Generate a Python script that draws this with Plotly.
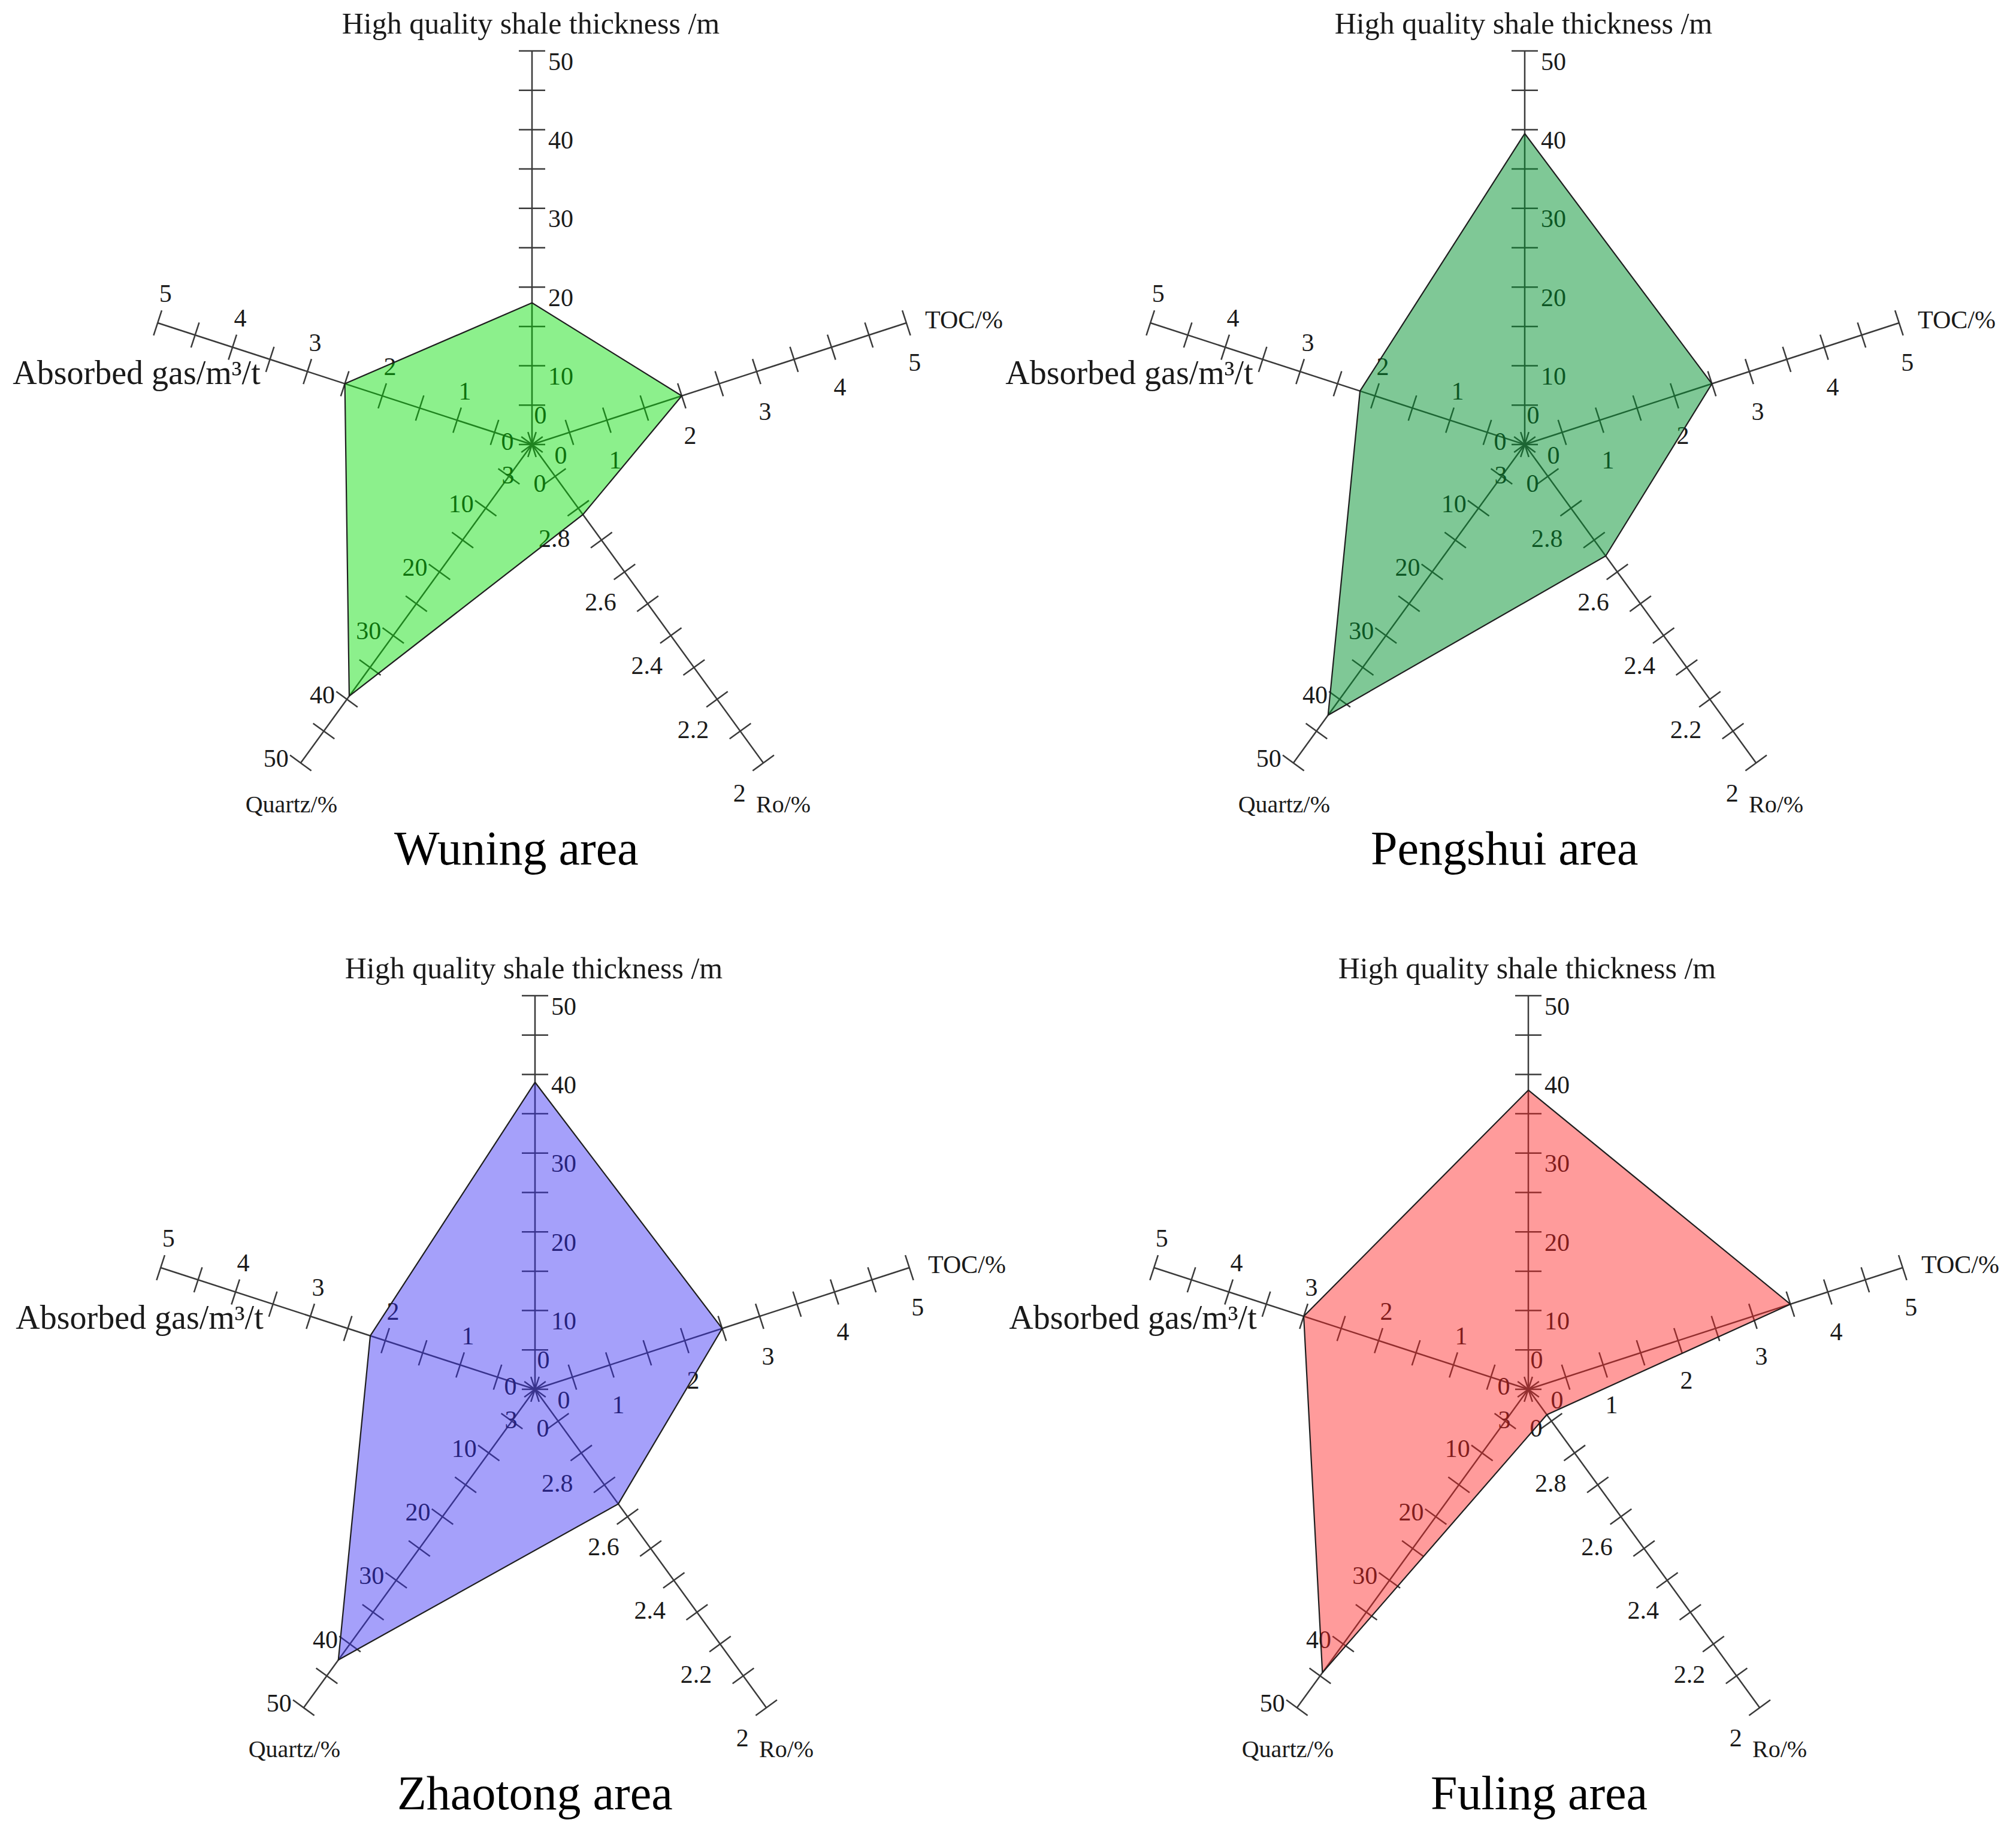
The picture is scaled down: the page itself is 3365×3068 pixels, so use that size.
import math
import plotly.graph_objects as go

# ---------------- data ----------------
areas = ["Wuning area", "Pengshui area", "Zhaotong area", "Fuling area"]
thickness = [18, 39.5, 39, 38]          # High quality shale thickness /m
toc = [2.0, 2.5, 2.5, 3.5]              # TOC/%
ro = [2.78, 2.65, 2.64, 2.92]           # Ro/%
quartz = [39.5, 42.5, 42.5, 44.5]       # Quartz/%
absorbed = [2.5, 2.2, 2.2, 3.0]         # Absorbed gas/m3/t

axis_names = ["High quality shale thickness /m", "TOC/%", "Ro/%", "Quartz/%",
              "Absorbed gas/m\u00b3/t"]
axis_min = [0, 0, 3, 0, 0]
axis_max = [50, 5, 2, 50, 5]
axis_minor_step = [5, 0.5, 0.1, 5, 0.5]
thick_labels = [0, 10, 20, 30, 40, 50]
toc_labels = [0, 1, 2, 3, 4, 5]
ro_labels = [3, 2.8, 2.6, 2.4, 2.2, 2]
quartz_labels = [0, 10, 20, 30, 40, 50]
absorbed_labels = [0, 1, 2, 3, 4, 5]
tick_labels = [thick_labels, toc_labels, ro_labels, quartz_labels, absorbed_labels]

fill_colors = ["rgba(0,222,0,0.45)", "rgba(0,145,45,0.5)",
               "rgba(55,44,244,0.45)", "rgba(255,33,33,0.45)"]

# ---------------- geometry / style ----------------
W, H = 3365, 3068
centers = [(888, 742), (2545, 742), (893, 2319), (2551, 2319)]
title_dx = [-26, -34, 0, 18]
L = 657.0            # axis length in px
S = 735.0            # half size of each polar domain in px
RMAX = S / L
angles = [90, 18, -54, -126, 162]
TICK_H = 22.0 / L
FONT = "Liberation Serif, Times New Roman, serif"
AXIS_COLOR = "#3a3a3a"
TEXT_COLOR = "#1a1a1a"

# label offsets (px, screen coords: +x right, +y down) relative to tick point
label_off = [(48, 21), (14, 70), (-40, 54), (-41, -4), (13, -45)]
# special offsets for the labels at the centre (relative to the centre)
zero_off = [(14, -46), (48, 21), None, (13, 68), (-41, -2)]
# axis title anchor (px from centre), text position, font size
title_pos = [((-2, -699), "middle center", 50),
             ((656, -205), "middle right", 42),
             ((374, 604), "middle right", 40),
             ((-325, 604), "middle left", 40),
             ((-660, -115), "middle center", 56)]


def norm(i, v):
    return (v - axis_min[i]) / (axis_max[i] - axis_min[i])


def pt(i, rn, dx=0.0, dy=0.0, perp=0.0):
    a = math.radians(angles[i])
    x = rn * math.cos(a) - perp * math.sin(a) + dx / L
    y = rn * math.sin(a) + perp * math.cos(a) - dy / L
    return math.hypot(x, y), math.degrees(math.atan2(y, x))


def fmt(v):
    return str(int(v)) if float(v).is_integer() else ("%g" % v)


fig = go.Figure()
annotations = []
values_by_area = list(zip(thickness, toc, ro, quartz, absorbed))

for k in range(4):
    sub = "polar" if k == 0 else "polar%d" % (k + 1)
    cx, cy = centers[k]

    # axis spokes
    r_ax, t_ax = [], []
    for i in range(5):
        r_ax += [0, 1, None]
        t_ax += [angles[i], angles[i], None]
    fig.add_trace(go.Scatterpolar(r=r_ax, theta=t_ax, mode="lines", subplot=sub,
                                  line=dict(color=AXIS_COLOR, width=2.5),
                                  hoverinfo="skip", showlegend=False))

    # tick marks
    r_tk, t_tk = [], []
    for i in range(5):
        n = int(round(abs(axis_max[i] - axis_min[i]) / axis_minor_step[i]))
        for j in range(n + 1):
            rn = j / n
            r1, a1 = pt(i, rn, perp=TICK_H)
            r2, a2 = pt(i, rn, perp=-TICK_H)
            r_tk += [r1, r2, None]
            t_tk += [a1, a2, None]
    fig.add_trace(go.Scatterpolar(r=r_tk, theta=t_tk, mode="lines", subplot=sub,
                                  line=dict(color=AXIS_COLOR, width=2.5),
                                  hoverinfo="skip", showlegend=False))

    # tick labels
    r_lb, t_lb, s_lb = [], [], []
    for i in range(5):
        for v in tick_labels[i]:
            rn = norm(i, v)
            if rn == 0 and zero_off[i] is not None:
                rr, aa = pt(i, 0, zero_off[i][0], zero_off[i][1])
            else:
                rr, aa = pt(i, rn, label_off[i][0], label_off[i][1])
            r_lb.append(rr)
            t_lb.append(aa)
            s_lb.append(fmt(v))
    fig.add_trace(go.Scatterpolar(r=r_lb, theta=t_lb, mode="text", text=s_lb,
                                  subplot=sub, cliponaxis=False,
                                  textfont=dict(family=FONT, size=42, color=TEXT_COLOR),
                                  textposition="middle center",
                                  hoverinfo="skip", showlegend=False))

    # axis titles
    for i in range(5):
        (dx, dy), tp, fs = title_pos[i]
        rr, aa = pt(i, 0, dx, dy)
        fig.add_trace(go.Scatterpolar(r=[rr], theta=[aa], mode="text",
                                      text=[axis_names[i]], subplot=sub,
                                      cliponaxis=False, textposition=tp,
                                      textfont=dict(family=FONT, size=fs, color=TEXT_COLOR),
                                      hoverinfo="skip", showlegend=False))

    # data polygon (drawn on top, semi-transparent)
    vals = values_by_area[k]
    r_poly = [norm(i, vals[i]) for i in range(5)]
    t_poly = list(angles)
    r_poly.append(r_poly[0])
    t_poly.append(t_poly[0])
    fig.add_trace(go.Scatterpolar(r=r_poly, theta=t_poly, mode="lines", subplot=sub,
                                  fill="toself", fillcolor=fill_colors[k],
                                  line=dict(color="#1e1e1e", width=2.2),
                                  name=areas[k], showlegend=False))

    dom = dict(x=[(cx - S) / W, (cx + S) / W],
               y=[1 - (cy + S) / H, 1 - (cy - S) / H])
    fig.update_layout(**{sub: dict(
        domain=dom,
        bgcolor="rgba(0,0,0,0)",
        radialaxis=dict(visible=False, range=[0, RMAX]),
        angularaxis=dict(visible=False, rotation=0, direction="counterclockwise"),
    )})

    annotations.append(dict(
        x=(cx + title_dx[k]) / W, y=1 - (cy + 674) / H, xref="paper", yref="paper",
        text=areas[k], showarrow=False, xanchor="center", yanchor="middle",
        font=dict(family=FONT, size=80, color="#000000")))

fig.update_layout(
    width=W, height=H,
    margin=dict(l=0, r=0, t=0, b=0),
    paper_bgcolor="white", plot_bgcolor="white",
    template="none",
    showlegend=False,
    annotations=annotations,
)

fig.write_html("out.html", config={"displayModeBar": False},
               post_script="document.body.style.margin='0';")
